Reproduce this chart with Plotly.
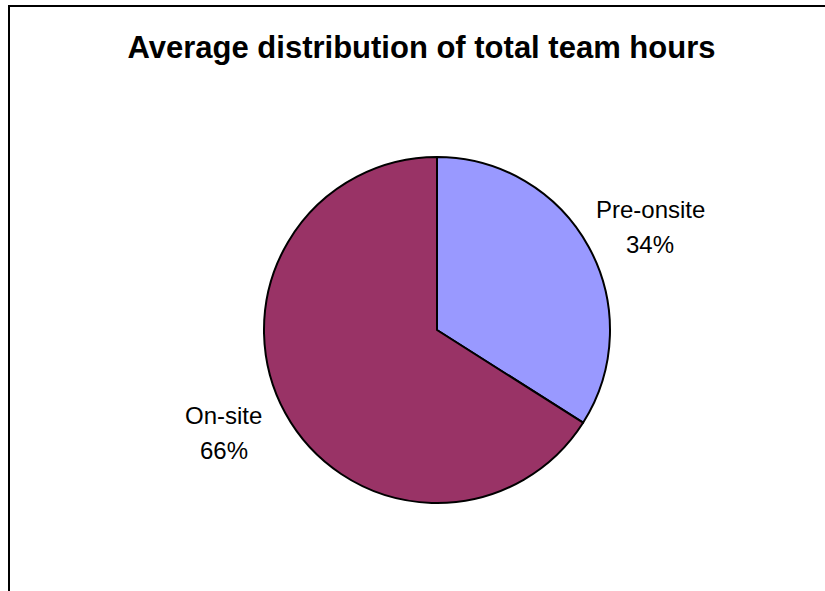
import math
import plotly.graph_objects as go

# Share of total team hours by phase
phases = ["Pre-onsite", "On-site"]
shares = [34, 66]
slice_colors = ["#9999FF", "#993366"]

W, H = 825, 591
CX, CY, R = 437, 330, 173          # pie centre and radius, in pixels
LABEL_R = 237                      # distance of label centres from the pie centre
LABEL_TURN = 3                     # small clockwise nudge of labels, degrees
LINE_GAP = 17.5                    # half the spacing between label lines


def px_x(x):
    return x / W


def px_y(y):
    return 1 - y / H


fig = go.Figure(
    go.Pie(
        labels=phases,
        values=shares,
        sort=False,
        direction="clockwise",
        rotation=0,
        textinfo="none",
        hoverinfo="label+percent",
        marker=dict(colors=slice_colors, line=dict(color="black", width=2)),
        domain=dict(x=[px_x(CX - R), px_x(CX + R)], y=[px_y(CY + R), px_y(CY - R)]),
        showlegend=False,
    )
)

# Outside labels at each slice's mid angle (clockwise from 12 o'clock)
total = sum(shares)
start = 0.0
annotations = []
for name, val in zip(phases, shares):
    sweep = 360.0 * val / total
    mid = math.radians(start + sweep / 2 + LABEL_TURN)
    lx = CX + LABEL_R * math.sin(mid)
    ly = CY - LABEL_R * math.cos(mid)
    pct = f"{round(100 * val / total)}%"
    for text, dy in ((name, -LINE_GAP), (pct, LINE_GAP)):
        annotations.append(
            dict(
                x=px_x(lx), y=px_y(ly + dy), xref="paper", yref="paper",
                text=text, showarrow=False, xanchor="center", yanchor="middle",
                font=dict(family="Liberation Sans, Arial, sans-serif", size=24, color="black"),
            )
        )
    start += sweep

# Chart-area frame (left and top edges visible)
shapes = [
    dict(type="line", xref="paper", yref="paper", x0=px_x(9), x1=px_x(9), y0=px_y(5), y1=0,
         line=dict(color="black", width=2)),
    dict(type="line", xref="paper", yref="paper", x0=px_x(8), x1=1, y0=px_y(6), y1=px_y(6),
         line=dict(color="black", width=2)),
]

fig.update_layout(
    width=W,
    height=H,
    margin=dict(l=0, r=0, t=0, b=0),
    paper_bgcolor="white",
    plot_bgcolor="white",
    title=dict(
        text="<b>Average distribution of total team hours</b>",
        x=px_x(421.5), xanchor="center",
        y=px_y(47), yanchor="middle", yref="container",
        font=dict(family="Liberation Sans, Arial, sans-serif", size=31, color="black"),
    ),
    annotations=annotations,
    shapes=shapes,
)

fig.write_html("out.html")
